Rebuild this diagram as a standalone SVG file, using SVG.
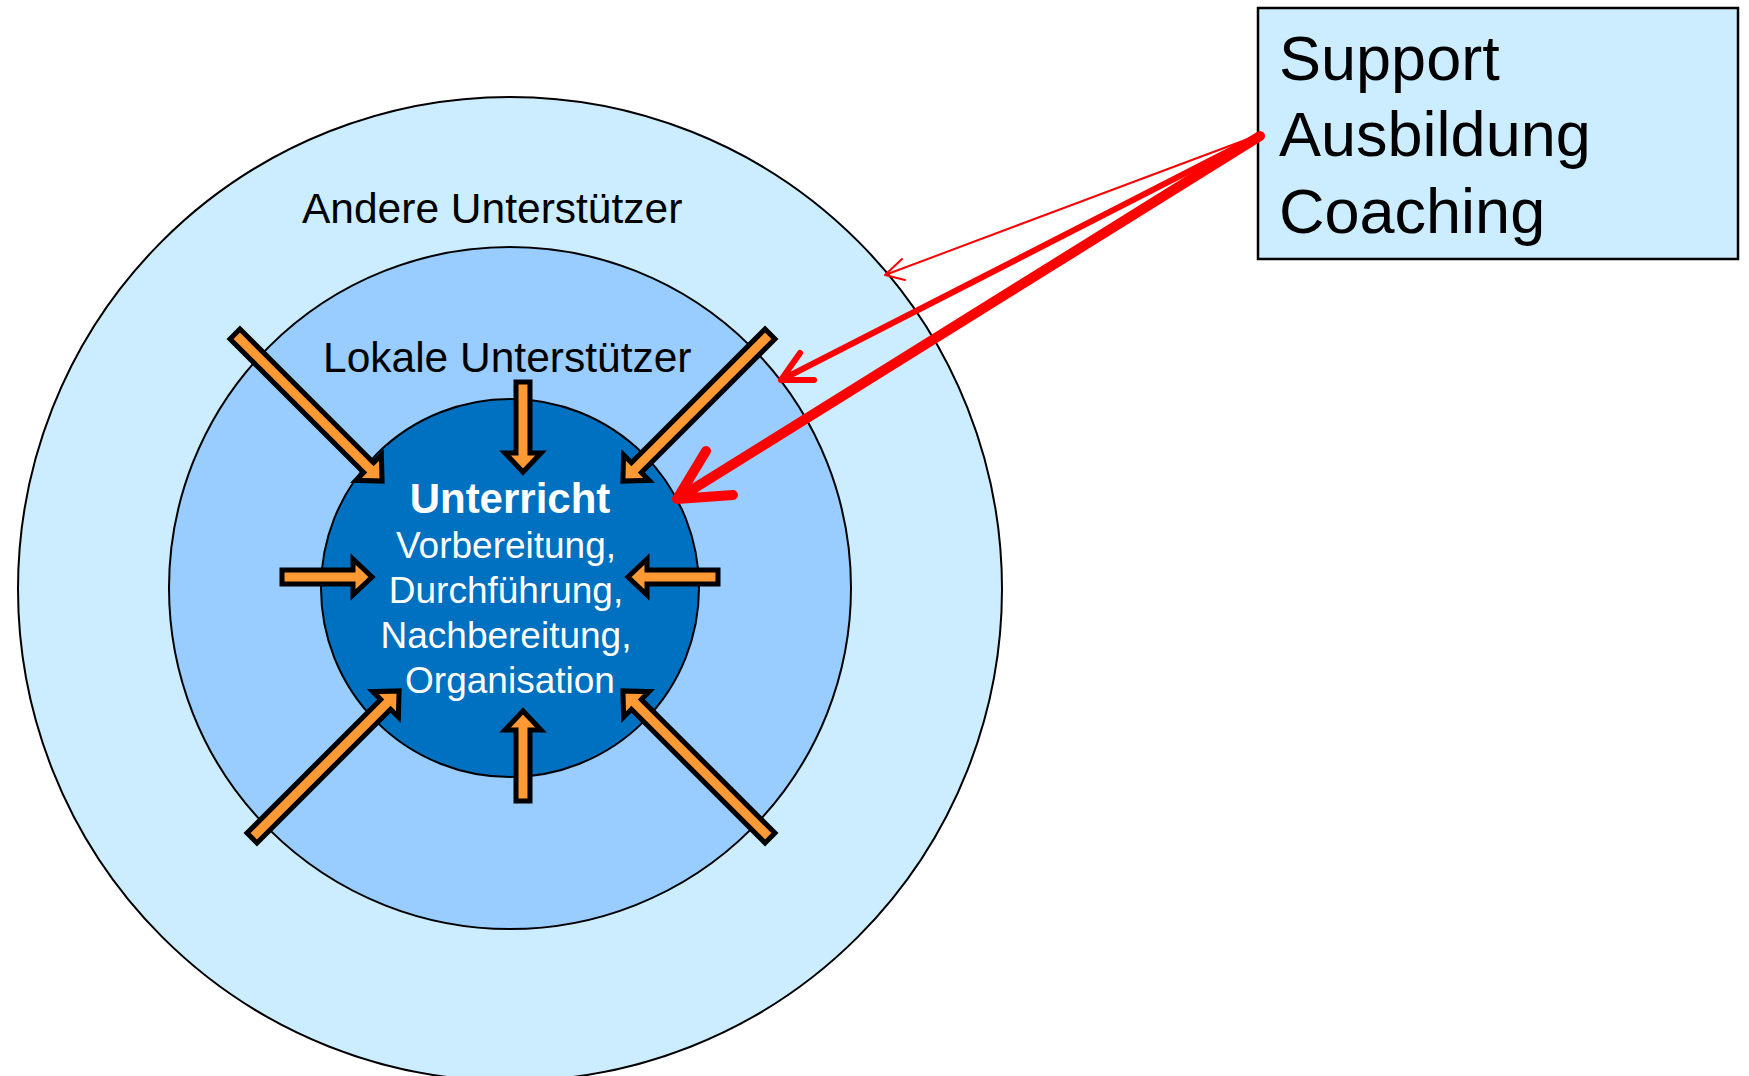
<svg xmlns="http://www.w3.org/2000/svg" width="1749" height="1076" viewBox="0 0 1749 1076">
<style>
.ring{stroke:#000;stroke-width:2}
.lbl{font-family:"Liberation Sans",Arial,sans-serif;fill:#000}
.inner{font-family:"Liberation Sans",Arial,sans-serif;fill:#fff;text-anchor:middle}
.oa{fill:#FF9933;stroke:#000;stroke-width:5;stroke-linejoin:miter}
.red{fill:none;stroke:#FF0000;stroke-linecap:round;stroke-linejoin:round}
</style>
<defs>
<polygon id="shortArrow" class="oa" points="0,-7 71,-7 71,-18 90,0 71,18 71,7 0,7"/>
<polygon id="longArrow" class="oa" points="0,-7 189,-7 189,-18 208,0 189,18 189,7 0,7"/>
</defs>
<g id="outer">
<circle class="ring" cx="510" cy="589" r="492" fill="#CCECFF"/>
<text class="lbl" x="302" y="223" font-size="42.5">Andere Unterstützer</text>
</g>
<g id="middle">
<circle class="ring" cx="510" cy="588" r="341" fill="#99CCFF"/>
<text class="lbl" x="323" y="372" font-size="42.5">Lokale Unterstützer</text>
</g>
<g id="center">
<circle class="ring" cx="510" cy="588" r="189" fill="#0070C0"/>
<text class="inner" x="510" y="513" font-size="42" font-weight="bold">Unterricht</text>
<text class="inner" x="506" y="558" font-size="37">Vorbereitung,</text>
<text class="inner" x="506" y="603" font-size="37">Durchführung,</text>
<text class="inner" x="506" y="648" font-size="37">Nachbereitung,</text>
<text class="inner" x="510" y="693" font-size="37">Organisation</text>
</g>
<g id="inward-arrows">
<use href="#shortArrow" transform="translate(523,382) rotate(90)"/>
<use href="#shortArrow" transform="translate(523,801) rotate(-90)"/>
<use href="#shortArrow" transform="translate(282,577)"/>
<use href="#shortArrow" transform="translate(718,577) rotate(180)"/>
<use href="#longArrow" transform="translate(235,334) rotate(45)"/>
<use href="#longArrow" transform="translate(770,334) rotate(135)"/>
<use href="#longArrow" transform="translate(252,838) rotate(-45)"/>
<use href="#longArrow" transform="translate(770,838) rotate(-135)"/>
</g>
<g id="box">
<rect x="1258" y="8" width="480" height="251" fill="#CCECFF" stroke="#000" stroke-width="2.5"/>
<text class="lbl" x="1279" y="80" font-size="63">Support</text>
<text class="lbl" x="1279" y="156" font-size="63">Ausbildung</text>
<text class="lbl" x="1279" y="233" font-size="63">Coaching</text>
</g>
<g id="connectors">
<path class="red" stroke-width="2" d="M1256,136 L885,275 M902,259 L885,275 L905,280"/>
<path class="red" stroke-width="6" d="M1258,136 L781,380 M800,353 L781,380 L814,380"/>
<path class="red" stroke-width="10" d="M1260,136 L677,499 M706,451 L677,499 L733,495"/>
</g>
</svg>
